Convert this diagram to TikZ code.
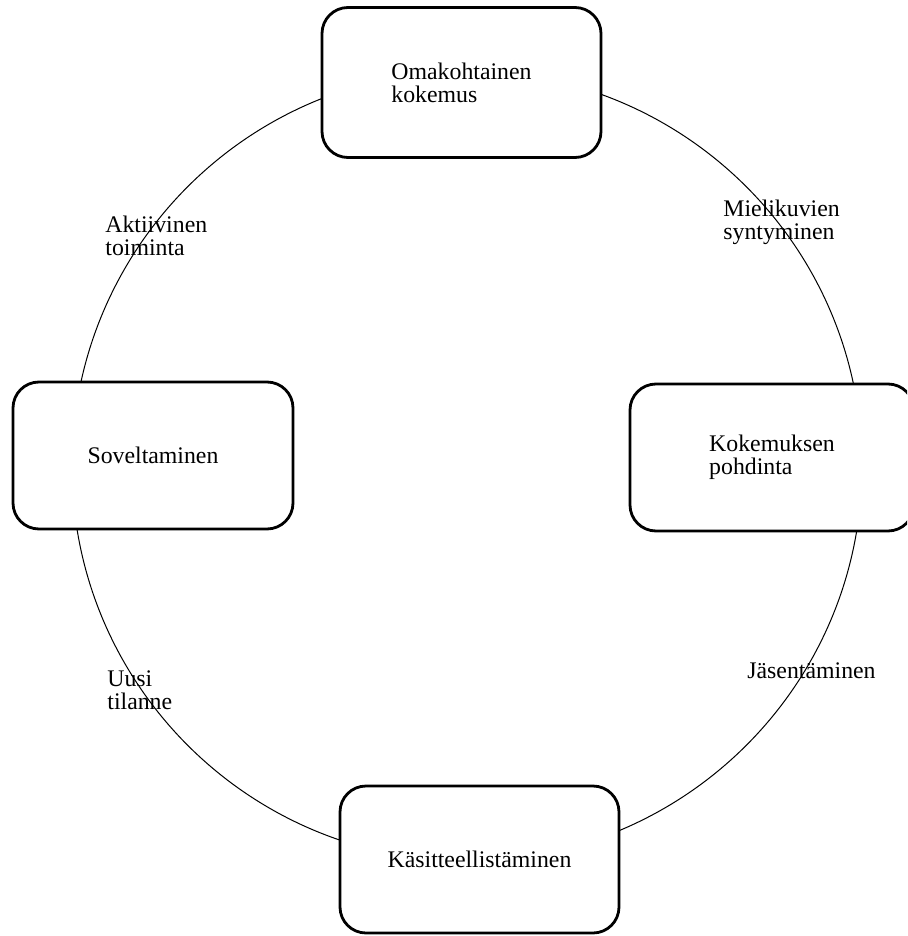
\documentclass[tikz,border=0pt]{standalone}
\usepackage{fontspec}
\setmainfont{Liberation Serif}
\begin{document}
\begin{tikzpicture}[x=0.5pt,y=-0.5pt,
  stagebox/.style={draw, line width=1.4pt, rounded corners=13pt, fill=white,
    inner sep=0pt, align=left, font=\fontsize{11.9}{11.5}\selectfont},
  arclabel/.style={inner sep=0pt, align=left, anchor=base west,
    font=\fontsize{11.9}{11.5}\selectfont},
  ring/.style={circle, draw, line width=0.5pt, inner sep=0pt, minimum size=395pt}]
\clip (0,0) rectangle (907,936);
\useasboundingbox (0,0) rectangle (907,936);
\node[ring] (cycle) at (467,466) {};
\node[stagebox, minimum width=139.5pt, minimum height=75pt] (oma) at (461.5,82.5) {Omakohtainen\\kokemus};
\node[stagebox, minimum width=140pt, minimum height=73.5pt] (sov) at (153,455.5) {Soveltaminen};
\node[stagebox, minimum width=142pt, minimum height=73.5pt] (kok) at (772,457.5) {Kokemuksen\\pohdinta};
\node[stagebox, minimum width=139.5pt, minimum height=73.5pt] (kas) at (479.5,859.5) {Käsitteellistäminen};
\node[arclabel] (akt) at (105,256) {Aktiivinen\\toiminta};
\node[arclabel] (mie) at (723,240) {Mielikuvien\\syntyminen};
\node[arclabel] (uus) at (107,709) {Uusi\\tilanne};
\node[arclabel] (jas) at (747,678) {Jäsentäminen};
\end{tikzpicture}
\end{document}
